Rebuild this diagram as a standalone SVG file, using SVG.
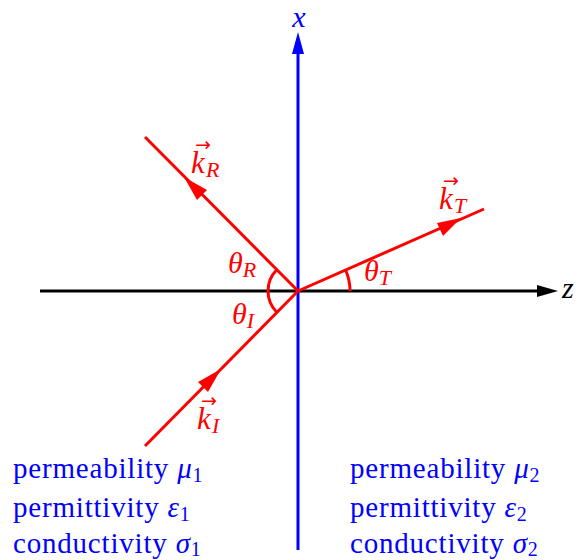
<svg xmlns="http://www.w3.org/2000/svg" width="577" height="560" viewBox="0 0 577 560">
<style>
.m{font-family:"Liberation Serif","DejaVu Serif",serif;font-style:italic}
.vec{font-family:"DejaVu Sans",sans-serif;font-size:19px;font-style:normal}
.r{fill:#ff0000}
.b{fill:#0000ff}
.txt{font-family:"Liberation Serif","DejaVu Serif",serif;font-size:29px;letter-spacing:0.8px;fill:#0000ff}
.ax{stroke-width:3;fill:none}
.ray{stroke:#ff0000;stroke-width:3;fill:none}
</style>
<rect width="577" height="560" fill="#ffffff"/>
<g id="connectors">
<line id="z-axis" class="ax" x1="40" y1="291" x2="542" y2="291" stroke="#000000"/>
<polygon points="558,291 537,285 537,297" fill="#000000"/>
<line id="x-axis" class="ax" x1="298" y1="550" x2="298" y2="48" stroke="#0000ff"/>
<polygon points="298,32 292,54 304,54" fill="#0000ff"/>
<line id="k-R" class="ray" x1="298" y1="291" x2="145" y2="137"/>
<polygon points="184,177 197,200 207,190" fill="#ff0000"/>
<line id="k-I" class="ray" x1="145" y1="446" x2="298" y2="291"/>
<polygon points="221,369 198,382 208,392" fill="#ff0000"/>
<line id="k-T" class="ray" x1="298" y1="291" x2="484" y2="209"/>
<polygon points="461,218 437,223 443,236" fill="#ff0000"/>
<path id="arc-RI" class="ray" d="M276.8,269.8 A30,30 0 0 0 276.8,312.2"/>
<path id="arc-T" class="ray" d="M350,291 A52,52 0 0 0 345.6,270"/>
</g>
<g id="label-x"><text class="m b" x="299" y="27" font-size="30" text-anchor="middle">x</text></g>
<g id="label-z"><text class="m" x="562" y="298" font-size="30">z</text></g>
<g id="label-kR"><text class="m r" x="191" y="173" font-size="31">k<tspan class="vec" x="195" y="151">→</tspan><tspan font-size="22" x="206" y="177">R</tspan></text></g>
<g id="label-kT"><text class="m r" x="439" y="209" font-size="31">k<tspan class="vec" x="443" y="187">→</tspan><tspan font-size="22" x="454" y="213">T</tspan></text></g>
<g id="label-kI"><text class="m r" x="197" y="429" font-size="31">k<tspan class="vec" x="201" y="407">→</tspan><tspan font-size="22" x="212" y="433">I</tspan></text></g>
<g id="label-thR"><text class="m r" x="228" y="273" font-size="30">θ<tspan font-size="22" dy="4">R</tspan></text></g>
<g id="label-thI"><text class="m r" x="232" y="324" font-size="30">θ<tspan font-size="22" dy="4">I</tspan></text></g>
<g id="label-thT"><text class="m r" x="364" y="281" font-size="30">θ<tspan font-size="22" dy="4">T</tspan></text></g>
<g id="props-1">
<text class="txt" x="13" y="478">permeability <tspan font-style="italic">μ</tspan><tspan font-size="20" dy="4">1</tspan></text>
<text class="txt" x="13" y="517">permittivity <tspan font-style="italic">ε</tspan><tspan font-size="20" dy="4">1</tspan></text>
<text class="txt" x="13" y="553">conductivity <tspan font-style="italic">σ</tspan><tspan font-size="20" dy="3">1</tspan></text>
</g>
<g id="props-2">
<text class="txt" x="350" y="478">permeability <tspan font-style="italic">μ</tspan><tspan font-size="20" dy="4">2</tspan></text>
<text class="txt" x="350" y="517">permittivity <tspan font-style="italic">ε</tspan><tspan font-size="20" dy="4">2</tspan></text>
<text class="txt" x="350" y="553">conductivity <tspan font-style="italic">σ</tspan><tspan font-size="20" dy="3">2</tspan></text>
</g>
</svg>
